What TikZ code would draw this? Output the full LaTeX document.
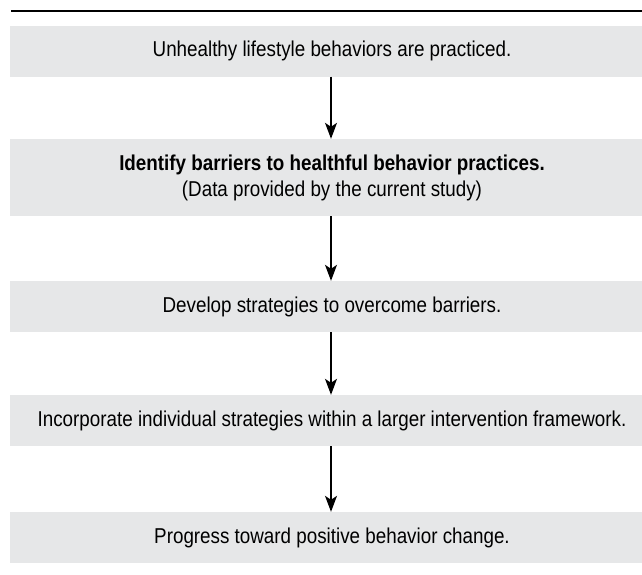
\documentclass[tikz,border=0pt]{standalone}
\usepackage{fontspec}
\setmainfont{Liberation Sans}[FakeStretch=0.875]
\usetikzlibrary{arrows.meta}
\definecolor{boxgrey}{HTML}{E6E7E8}
\tikzset{
  stepbox/.style={fill=boxgrey, draw=none, minimum width=644pt, minimum height=51pt, inner sep=0pt, align=center, font=\fontsize{21.5}{26}\selectfont},
  flow/.style={line width=1.3pt, -{Stealth[length=16pt,width=12pt,inset=4pt]}}
}
\begin{document}
\begin{tikzpicture}[x=1pt,y=-1pt]
\useasboundingbox (0,0) rectangle (642,574);
\draw[line width=2.6pt] (11,11) -- (642,11);
\node[stepbox] (b1) at (332,51) {Unhealthy lifestyle behaviors are practiced.};
\node[stepbox, minimum height=77pt] (b2) at (332,177.5) {\textbf{Identify barriers to healthful behavior practices.}\\(Data provided by the current study)};
\node[stepbox] (b3) at (332,306.5) {Develop strategies to overcome barriers.};
\node[stepbox] (b4) at (332,420.5) {Incorporate individual strategies within a larger intervention framework.};
\node[stepbox] (b5) at (332,537.5) {Progress toward positive behavior change.};
\draw[flow] (b1.south -| 331,0) -- (b2.north -| 331,0);
\draw[flow] (b2.south -| 331,0) -- (b3.north -| 331,0);
\draw[flow] (b3.south -| 331,0) -- (b4.north -| 331,0);
\draw[flow] (b4.south -| 331,0) -- (b5.north -| 331,0);
\end{tikzpicture}
\end{document}
